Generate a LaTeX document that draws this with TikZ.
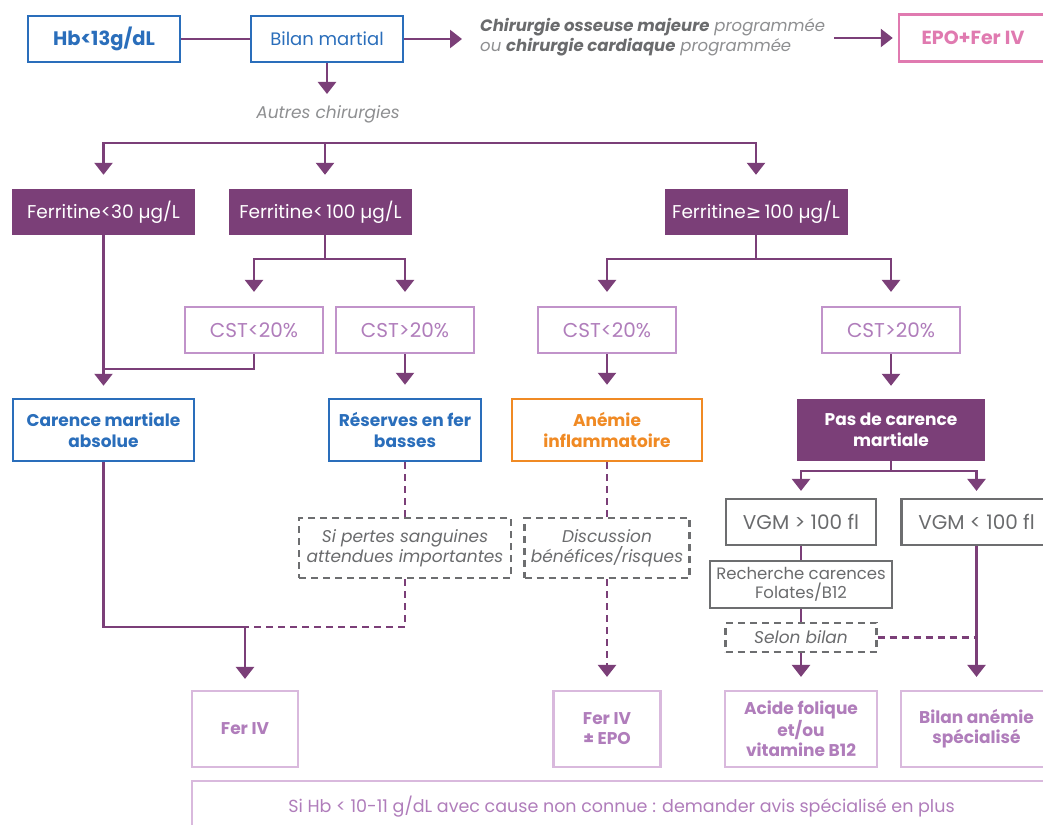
\documentclass[tikz,border=0pt]{standalone}
\usepackage{fontspec}
\setmainfont{Poppins}
\newfontfamily\dv{DejaVu Sans}
\usetikzlibrary{arrows.meta}
\definecolor{pur}{HTML}{7B3F78}
\definecolor{blu}{HTML}{2A6EBB}
\definecolor{pnk}{HTML}{E07AB0}
\definecolor{lpur}{HTML}{B07DBB}
\definecolor{lpbd}{HTML}{D9B9DD}
\definecolor{cstbd}{HTML}{C193CA}
\definecolor{org}{HTML}{F08A24}
\definecolor{gry}{HTML}{6D6E70}
\definecolor{gdk}{HTML}{6A6B6D}
\definecolor{glt}{HTML}{8E8F91}
\begin{document}
\begin{tikzpicture}[x=1pt,y=-1pt,
  box/.style={rectangle,inner sep=0pt,align=center},
  bluebox/.style={box,draw=blu,line width=2.5pt,text=blu},
  fillbox/.style={box,fill=pur,text=white},
  cstbox/.style={box,draw=cstbd,line width=2.2pt,text=lpur,font=\fontsize{20}{23}\selectfont,minimum width=138pt,minimum height=46pt},
  endbox/.style={box,draw=lpbd,line width=2.2pt,text=lpur,font=\bfseries\fontsize{17}{20}\selectfont,minimum height=76pt},
  graybox/.style={box,draw=gry,line width=2.2pt,text=gdk},
  dashbox/.style={box,draw=gry,line width=2.2pt,dash pattern=on 7pt off 5pt,text=gdk,font=\itshape\fontsize{17}{20}\selectfont},
  conn/.style={draw=pur,line width=2.5pt},
  dconn/.style={conn,dash pattern=on 7pt off 5pt},
  arr/.style={conn,-{Triangle[width=18pt,length=12pt]}},
  darr/.style={dconn,-{Triangle[width=18pt,length=12pt]}}
]
\clip (0,0) rectangle (1043,824);
\fill[white] (0,0) rectangle (1043,824);

% top row
\node[bluebox,font=\bfseries\fontsize{19.5}{22}\selectfont,minimum width=152pt,minimum height=46pt] (hb) at (104,39) {Hb<13g/dL};
\node[bluebox,font=\fontsize{18}{21}\selectfont,minimum width=152pt,minimum height=46pt] (bilan) at (327,39) {Bilan martial};
\node[box,anchor=west,align=left,font=\itshape\fontsize{16.5}{20}\selectfont,text=glt] (chir) at (480,37)
  {{\color{gdk}\bfseries Chirurgie osseuse majeure} programmée\\ ou {\color{gdk}\bfseries chirurgie cardiaque} programmée};
\node[box,draw=pnk,line width=2.5pt,text=pnk,font=\bfseries\fontsize{19}{22}\selectfont,minimum width=148pt,minimum height=47pt] (epo) at (973,38) {EPO+Fer IV};
\node[box,font=\itshape\fontsize{17}{20}\selectfont,text=glt] (autres) at (328,114) {Autres chirurgies};

\coordinate (c1) at (834,38);
\coordinate (a0) at (327,94);
\draw[conn] (hb) -- (bilan);
\draw[arr,shorten >=18pt] (bilan.east) -- (bilan.east -| chir.west);
\draw[arr,shorten >=5pt] (c1) -- (epo.west);
\draw[arr] (bilan.south) -- (a0);

% ferritine row
\node[fillbox,font=\fontsize{18.5}{21}\selectfont,minimum width=183pt,minimum height=46pt] (f30) at (103.5,212) {Ferritine<30 µg/L};
\node[fillbox,font=\fontsize{18.5}{21}\selectfont,minimum width=183pt,minimum height=46pt] (f100) at (320.5,212) {Ferritine<\,100 µg/L};
\node[fillbox,font=\fontsize{18.5}{21}\selectfont,minimum width=183pt,minimum height=46pt] (f100b) at (756,212) {Ferritine{\dv ≥}\,100 µg/L};

\coordinate (br) at (325,143);
\draw[arr,shorten >=14pt] (br) -| (f30.north);
\draw[arr,shorten >=14pt] (br) -| (f100b.north);
\draw[arr,shorten >=14pt] (br) -- (br |- f100.north);

% CST row
\node[cstbox] (cl1) at (254,330) {CST<20\%};
\node[cstbox] (ch1) at (405,330) {CST>20\%};
\node[cstbox] (cl2) at (607,330) {CST<20\%};
\node[cstbox] (ch2) at (891,330) {CST>20\%};

\coordinate (j1) at (325,259);
\draw[conn] (f100.south -| j1) -- (j1);
\draw[arr,shorten >=14pt] (j1) -| (cl1.north);
\draw[arr,shorten >=14pt] (j1) -| (ch1.north);
\coordinate (j3) at (756,259);
\draw[conn] (f100b.south) -- (j3);
\draw[arr,shorten >=14pt] (j3) -| (cl2.north);
\draw[arr,shorten >=14pt] (j3) -| (ch2.north);

% diagnosis row
\node[bluebox,font=\bfseries\fontsize{17}{21}\selectfont,minimum width=181pt,minimum height=62pt] (car) at (103.5,430) {Carence martiale\\absolue};
\node[bluebox,font=\bfseries\fontsize{17}{21}\selectfont,minimum width=152pt,minimum height=62pt] (res) at (405,430) {Réserves en fer\\basses};
\node[box,draw=org,line width=2.5pt,text=org,font=\bfseries\fontsize{17}{21}\selectfont,minimum width=190pt,minimum height=62pt] (anem) at (607,430) {Anémie\\inflammatoire};
\node[fillbox,font=\bfseries\fontsize{17}{21}\selectfont,minimum width=188pt,minimum height=62pt] (pas) at (891,430) {Pas de carence\\martiale};

\coordinate (j2) at (103.5,369);
\draw[arr,shorten >=12pt] (f30.south) -- (car.north);
\draw[conn] (cl1.south) |- (j2);
\draw[arr,shorten >=13pt] (ch1.south) -- (res.north);
\draw[arr,shorten >=13pt] (cl2.south) -- (anem.north);
\draw[arr,shorten >=13pt] (ch2.south) -- (pas.north);

% conditions
\node[dashbox,minimum width=212pt,minimum height=60pt] (sip) at (405,548) {Si pertes sanguines\\attendues importantes};
\node[dashbox,minimum width=165pt,minimum height=60pt] (disc) at (607,548) {Discussion\\bénéfices/risques};

\node[graybox,font=\fontsize{20}{23}\selectfont,minimum width=150pt,minimum height=46pt] (vg1) at (801,522) {VGM > 100 fl};
\node[graybox,font=\fontsize{20}{23}\selectfont,minimum width=150pt,minimum height=46pt] (vg2) at (976.5,522) {VGM < 100 fl};
\node[graybox,font=\fontsize{16.5}{19}\selectfont,minimum width=182pt,minimum height=47pt] (rech) at (801,584.5) {Recherche carences\\Folates/B12};
\node[dashbox,minimum width=151pt,minimum height=29pt] (selon) at (801,637.5) {Selon bilan};

\coordinate (j4) at (891,471);
\draw[conn] (pas.south) -- (j4);
\draw[arr,shorten >=7pt] (j4) -| (vg1.north);
\draw[arr,shorten >=7pt] (j4) -| (vg2.north);
\draw[conn] (vg1.south) -- (rech.north);
\draw[conn] (rech.south) -- (selon.north);

% end row
\node[endbox,minimum width=106pt] (feriv) at (245,729) {Fer IV};
\node[endbox,minimum width=107pt] (ferepo) at (607,729) {Fer IV\\± EPO};
\node[endbox,minimum width=152pt] (acide) at (801,729) {Acide folique\\et/ou\\vitamine B12};
\node[endbox,minimum width=151pt] (bil2) at (976.5,729) {Bilan anémie\\spécialisé};
\node[box,draw=lpbd,line width=2.2pt,text=lpur,font=\fontsize{17.5}{20}\selectfont,minimum width=859pt,minimum height=60pt,text depth=14pt] (sihb) at (621.5,811) {Si Hb < 10-11 g/dL avec cause non connue : demander avis spécialisé en plus};

\coordinate (j5) at (245,627);
\draw[dconn] (res.south) -- (sip.north);
\draw[dconn] (sip.south) |- (j5);
\draw[conn] (car.south) |- (j5);
\draw[arr,shorten >=11pt] (j5) -- (feriv.north);
\draw[dconn] (anem.south) -- (disc.north);
\draw[darr,shorten >=13pt] (disc.south) -- (ferepo.north);
\draw[arr,shorten >=13pt] (selon.south) -- (acide.north);
\draw[arr,shorten >=13pt] (vg2.south) -- (bil2.north);
\draw[dconn] (selon.east) -- (selon.east -| vg2.south);
\end{tikzpicture}
\end{document}
